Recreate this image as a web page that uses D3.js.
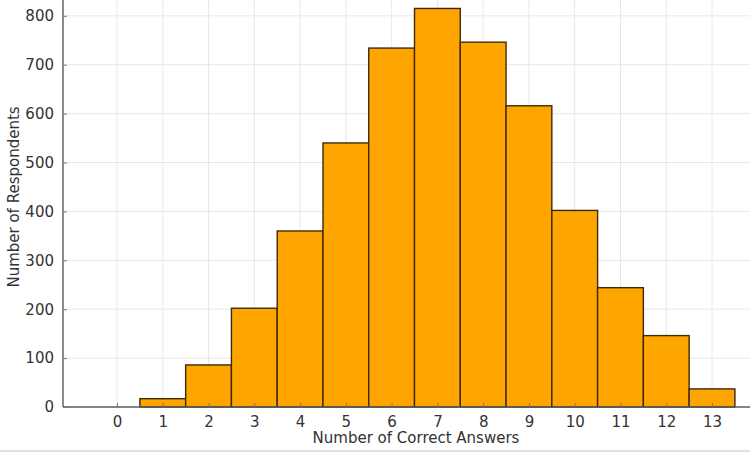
<!DOCTYPE html>
<html>
<head>
<meta charset="utf-8">
<script src="https://cdn.jsdelivr.net/npm/d3@7"></script>
<style>
  body { margin: 0; background: #fff; }
  svg { display: block; font-family: "DejaVu Sans", sans-serif; }
</style>
</head>
<body>
<div id="chart"></div>
<script>
// histogram of correct answers

var answers = [0, 1, 2, 3, 4, 5, 6, 7, 8, 9, 10, 11, 12, 13];
var respondents = [0, 17, 86, 202, 360, 540, 734, 815, 746, 616, 402, 244, 146, 37];
var yTicks = [0, 100, 200, 300, 400, 500, 600, 700, 800];

var width = 750, height = 457;

// plot area (the picture is cropped, so top and right run past the edges)
var left = 63, bottom = 407;

var svg = d3.select("#chart")
    .append("svg")
    .attr("width", width)
    .attr("height", height);

var x = d3.scaleLinear()
    .domain([-1.18, 14.2])
    .range([left, left + 15.38 * 45.77]);

var y = d3.scaleLinear()
    .domain([0, 800])
    .range([bottom, 15.8]);

// grid
svg.append("g")
    .selectAll("line")
    .data(answers)
    .enter()
    .append("line")
    .attr("x1", function (d) { return x(d); })
    .attr("x2", function (d) { return x(d); })
    .attr("y1", 0)
    .attr("y2", bottom)
    .attr("stroke", "#e8e8e8")
    .attr("stroke-width", 1);

svg.append("g")
    .selectAll("line")
    .data(yTicks.slice(1))
    .enter()
    .append("line")
    .attr("x1", left)
    .attr("x2", width)
    .attr("y1", function (d) { return y(d); })
    .attr("y2", function (d) { return y(d); })
    .attr("stroke", "#e8e8e8")
    .attr("stroke-width", 1);

// bars
svg.append("g")
    .selectAll("rect")
    .data(answers.filter(function (d, i) { return respondents[i] > 0; }))
    .enter()
    .append("rect")
    .attr("x", function (d) { return x(d - 0.5); })
    .attr("width", function (d) { return x(d + 0.5) - x(d - 0.5); })
    .attr("y", function (d) { return y(respondents[d]); })
    .attr("height", function (d) { return y(0) - y(respondents[d]); })
    .attr("fill", "#ffa500")
    .attr("stroke", "#3d2a0c")
    .attr("stroke-width", 1.4);

// axes, ticks inside
var xAxis = svg.append("g")
    .attr("transform", "translate(0," + bottom + ")")
    .call(d3.axisBottom(x).tickValues(answers).tickSizeInner(-4).tickSizeOuter(0).tickPadding(9));

var yAxis = svg.append("g")
    .attr("transform", "translate(" + left + ",0)")
    .call(d3.axisLeft(y).tickValues(yTicks).tickSizeInner(-4).tickSizeOuter(0).tickPadding(9));

xAxis.select(".domain").attr("d", "M" + left + ",0H" + width);
yAxis.select(".domain").attr("d", "M0," + bottom + "V0");

[xAxis, yAxis].forEach(function (a) {
    a.select(".domain").attr("stroke", "#5a5a5a").attr("stroke-width", 1.4);
    a.selectAll(".tick line").attr("stroke", "#777");
    a.selectAll(".tick text")
        .attr("fill", "#333")
        .style("font-size", "15px")
        .style("font-family", "DejaVu Sans, sans-serif");
});

// labels
svg.append("text")
    .attr("x", 416)
    .attr("y", 443)
    .attr("text-anchor", "middle")
    .attr("fill", "#333")
    .style("font-size", "15px")
    .text("Number of Correct Answers");

svg.append("text")
    .attr("transform", "translate(19,197) rotate(-90)")
    .attr("text-anchor", "middle")
    .attr("fill", "#333")
    .style("font-size", "15px")
    .text("Number of Respondents");

// faint page edge at the bottom
svg.append("line")
    .attr("x1", 0).attr("x2", width)
    .attr("y1", 451).attr("y2", 451)
    .attr("stroke", "#e2e2e2")
    .attr("stroke-width", 2);
</script>
</body>
</html>
